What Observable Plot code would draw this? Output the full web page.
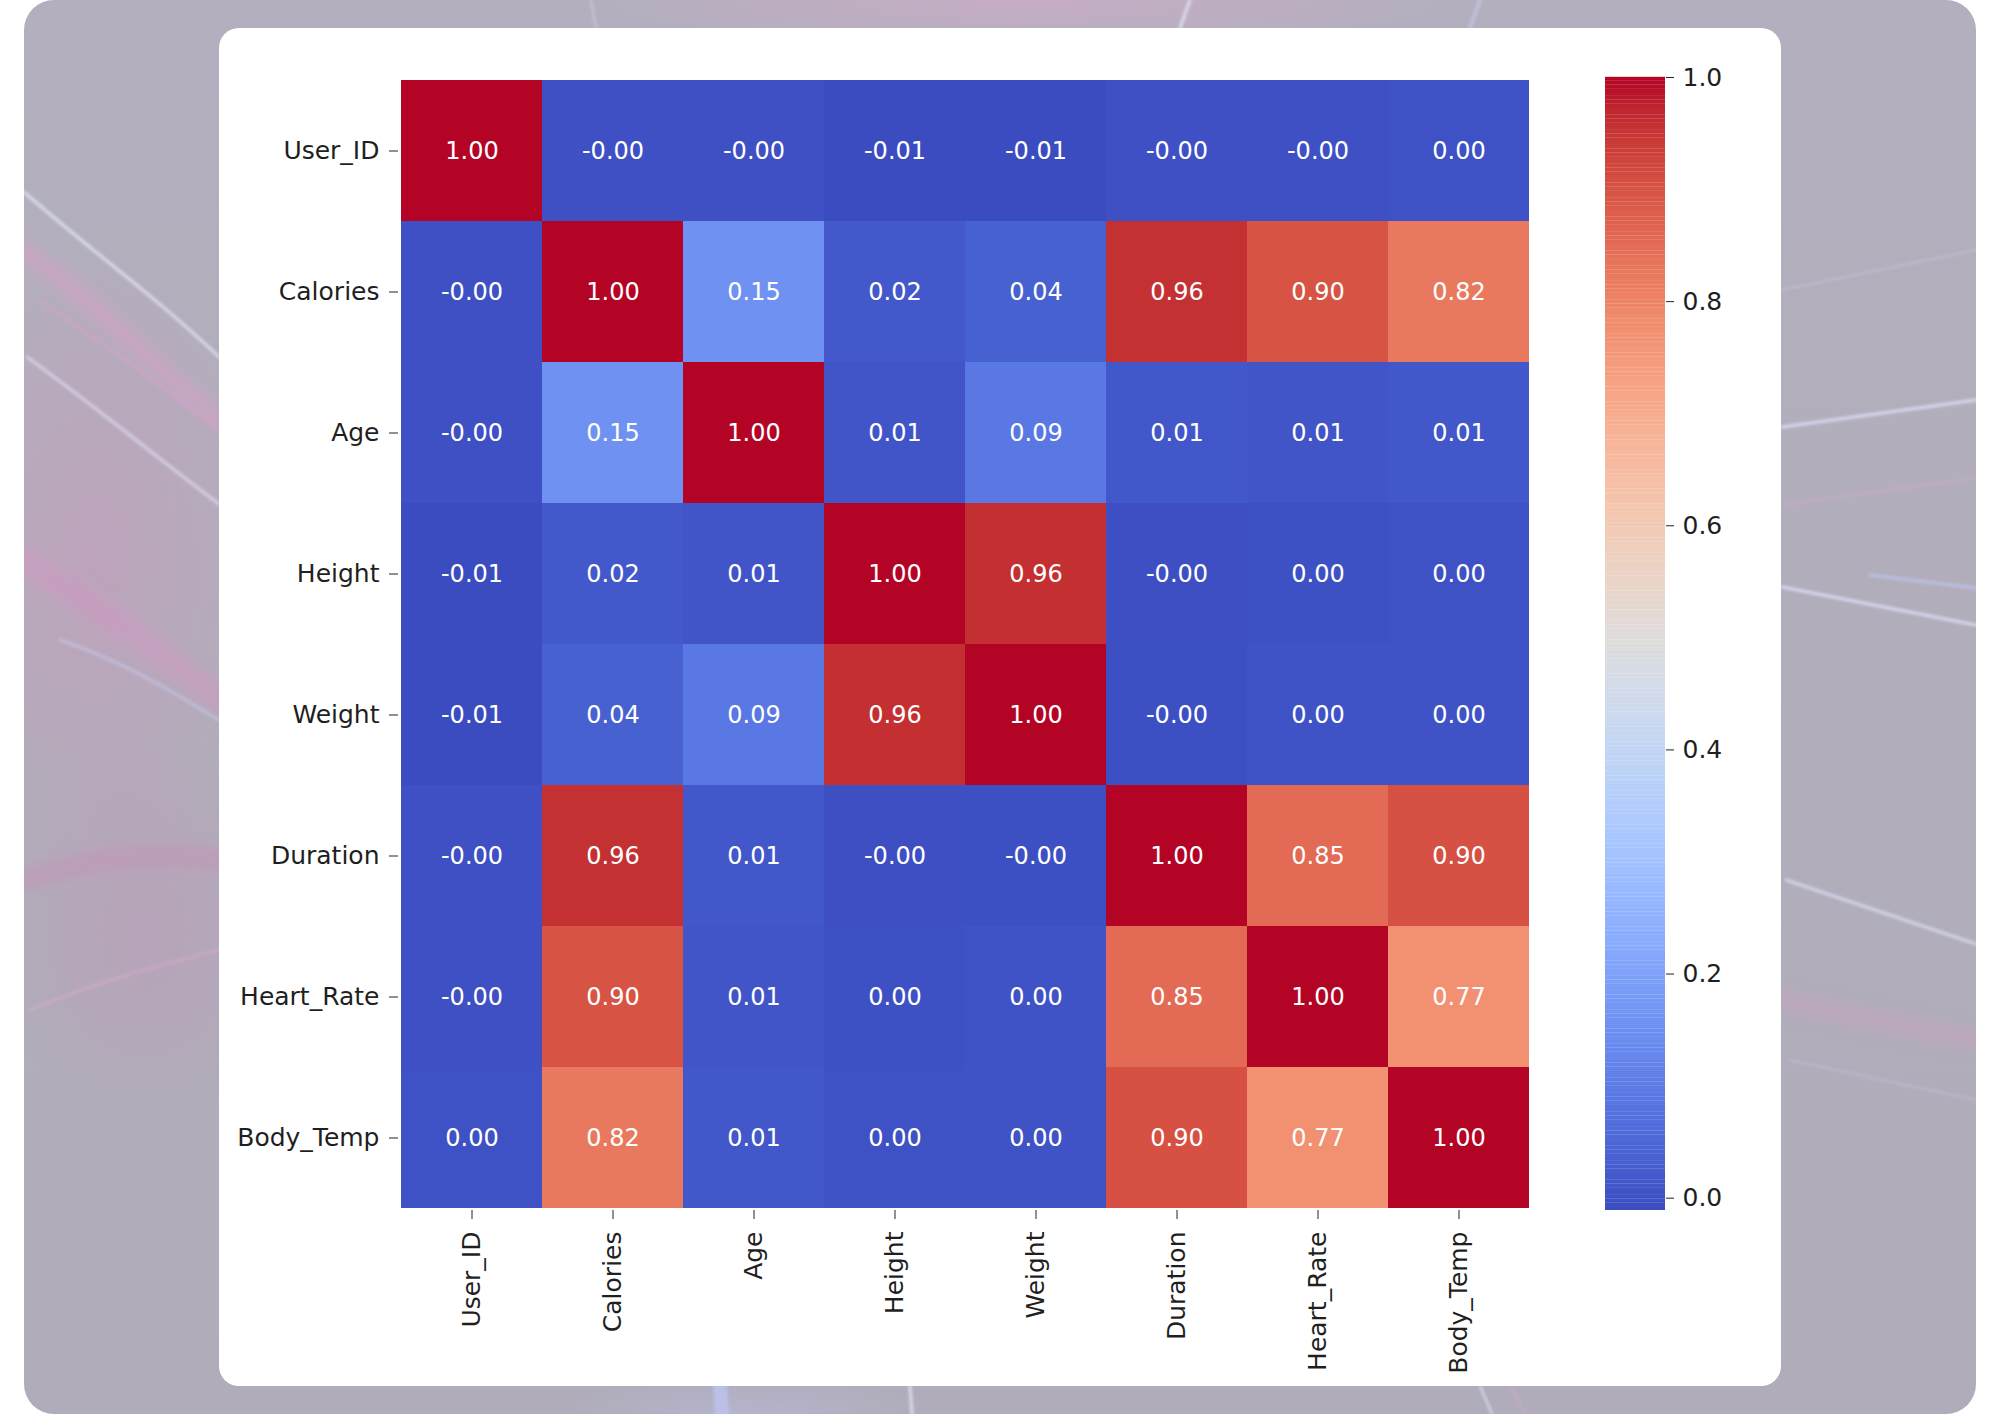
<!DOCTYPE html>
<html>
<head>
<meta charset="utf-8">
<script src="https://cdn.jsdelivr.net/npm/d3@7"></script>
<script src="https://cdn.jsdelivr.net/npm/@observablehq/plot@0.6"></script>
<style>
  html, body { margin: 0; padding: 0; width: 2000px; height: 1414px; background: #ffffff; overflow: hidden; }
  #panel {
    position: absolute; left: 24px; top: 0; width: 1952px; height: 1414px;
    border-radius: 30px; overflow: hidden;
    background:
      radial-gradient(ellipse 230px 420px at 70px 560px, rgba(206,150,190,0.42), rgba(206,150,190,0) 75%),
      radial-gradient(ellipse 200px 260px at 120px 930px, rgba(200,140,185,0.30), rgba(200,140,185,0) 75%),
      radial-gradient(ellipse 520px 60px at 1000px 0px, rgba(205,172,200,0.75), rgba(205,172,200,0) 80%),
      radial-gradient(ellipse 240px 50px at 720px 1414px, rgba(185,185,220,0.6), rgba(185,185,220,0) 80%),
      linear-gradient(180deg, #b4afbe 0%, #b1adba 50%, #b0acb9 100%);
  }
  #deco { position: absolute; left: 0; top: 0; }
  #card {
    position: absolute; left: 219px; top: 28px; width: 1562px; height: 1358px;
    border-radius: 20px; background: #ffffff;
  }
  #heat { position: absolute; left: 219px; top: 28px; }
  #bar { position: absolute; left: 1580px; top: 28px; }
  svg text { font-family: "DejaVu Sans", sans-serif; }
</style>
</head>
<body>
<div id="panel">
  <!-- light streaks in the backdrop -->
  <svg id="deco" width="1952" height="1414" viewBox="24 0 1952 1414">
    <defs>
      <filter id="soft"><feGaussianBlur stdDeviation="1.6"/></filter>
      <filter id="haze"><feGaussianBlur stdDeviation="6"/></filter>
    </defs>
    <g filter="url(#haze)" fill="none" stroke-linecap="round">
      <path d="M24,250 C90,300 150,360 219,420" stroke="rgba(215,160,200,0.55)" stroke-width="18"/>
      <path d="M24,560 C80,600 150,640 219,700" stroke="rgba(210,150,195,0.45)" stroke-width="26"/>
      <path d="M24,880 C90,860 150,850 219,860" stroke="rgba(200,140,185,0.40)" stroke-width="22"/>
      <path d="M1782,1000 C1850,1015 1920,1030 1976,1040" stroke="rgba(210,160,195,0.35)" stroke-width="20"/>
    </g>
    <g filter="url(#soft)" fill="none" stroke-linecap="round">
      <path d="M24,192 C90,250 160,300 219,357" stroke="rgba(230,232,255,0.75)" stroke-width="3"/>
      <path d="M27,357 C100,410 160,460 219,504" stroke="rgba(230,232,255,0.6)" stroke-width="3"/>
      <path d="M40,300 C110,350 170,390 219,430" stroke="rgba(215,160,205,0.6)" stroke-width="3"/>
      <path d="M60,640 C120,660 170,690 219,720" stroke="rgba(200,205,245,0.55)" stroke-width="3"/>
      <path d="M30,1010 C100,980 160,965 219,950" stroke="rgba(220,170,210,0.5)" stroke-width="3"/>
      <path d="M1782,427 L1976,400" stroke="rgba(225,228,255,0.8)" stroke-width="3"/>
      <path d="M1782,587 L1976,625" stroke="rgba(225,228,255,0.8)" stroke-width="3"/>
      <path d="M1870,575 L1976,588" stroke="rgba(190,200,250,0.7)" stroke-width="3"/>
      <path d="M1782,505 L1976,478" stroke="rgba(215,170,210,0.5)" stroke-width="2"/>
      <path d="M1782,290 L1976,250" stroke="rgba(215,200,235,0.45)" stroke-width="2"/>
      <path d="M1786,880 L1976,944" stroke="rgba(225,228,255,0.7)" stroke-width="3"/>
      <path d="M1790,1060 L1976,1100" stroke="rgba(215,190,230,0.5)" stroke-width="2"/>
      <path d="M1190,0 L1180,28" stroke="rgba(230,232,255,0.8)" stroke-width="3"/>
      <path d="M591,0 L596,28" stroke="rgba(220,200,235,0.7)" stroke-width="2"/>
      <path d="M1480,0 L1470,28" stroke="rgba(200,205,245,0.7)" stroke-width="3"/>
      <path d="M910,1386 L912,1414" stroke="rgba(230,232,255,0.8)" stroke-width="3"/>
      <path d="M1480,1386 L1492,1414" stroke="rgba(225,228,255,0.8)" stroke-width="2"/>
      <path d="M1510,1386 L1525,1414" stroke="rgba(215,170,210,0.6)" stroke-width="2"/>
      <path d="M720,1386 L722,1414" stroke="rgba(190,195,240,0.8)" stroke-width="14"/>
    </g>
  </svg>
</div>
<div id="card"></div>
<div id="heat"></div>
<div id="bar"></div>

<script>
// Variables of the correlation matrix (row/column order)
const variables = ["User_ID", "Calories", "Age", "Height", "Weight", "Duration", "Heart_Rate", "Body_Temp"];

// Pearson correlations, one row per variable
const userIdRow    = [ 1.000, -0.002, -0.002, -0.011, -0.011, -0.002, -0.002,  0.001];
const caloriesRow  = [-0.002,  1.000,  0.154,  0.017,  0.036,  0.956,  0.898,  0.824];
const ageRow       = [-0.002,  0.154,  1.000,  0.010,  0.090,  0.013,  0.010,  0.013];
const heightRow    = [-0.011,  0.017,  0.010,  1.000,  0.958, -0.004,  0.000,  0.001];
const weightRow    = [-0.011,  0.036,  0.090,  0.958,  1.000, -0.003,  0.004,  0.004];
const durationRow  = [-0.002,  0.956,  0.013, -0.004, -0.003,  1.000,  0.853,  0.903];
const heartRateRow = [-0.002,  0.898,  0.010,  0.000,  0.004,  0.853,  1.000,  0.772];
const bodyTempRow  = [ 0.001,  0.824,  0.013,  0.001,  0.004,  0.903,  0.772,  1.000];

const matrixRows = [userIdRow, caloriesRow, ageRow, heightRow, weightRow, durationRow, heartRateRow, bodyTempRow];

// Colour bar tick values
const colorbarTicks = [0.0, 0.2, 0.4, 0.6, 0.8, 1.0];

// coolwarm diverging palette, 33 evenly spaced stops
const coolwarm = [
  "rgb(59,76,192)","rgb(68,90,204)","rgb(77,104,215)","rgb(87,117,225)","rgb(98,130,234)",
  "rgb(108,142,241)","rgb(119,154,247)","rgb(130,165,251)","rgb(141,176,254)","rgb(152,185,255)",
  "rgb(163,194,255)","rgb(174,201,253)","rgb(184,208,249)","rgb(194,213,244)","rgb(204,217,238)",
  "rgb(213,219,230)","rgb(221,221,221)","rgb(229,216,209)","rgb(236,211,197)","rgb(241,204,185)",
  "rgb(245,196,173)","rgb(247,187,160)","rgb(247,177,148)","rgb(247,166,135)","rgb(244,154,123)",
  "rgb(241,141,111)","rgb(236,127,99)","rgb(229,112,88)","rgb(222,96,77)","rgb(213,80,66)",
  "rgb(203,62,56)","rgb(192,40,47)","rgb(180,4,38)"
];

// Long-form table for the cell mark
const cells = [];
matrixRows.forEach((row, i) => row.forEach((v, j) => cells.push({row: variables[i], col: variables[j], value: v})));

const vmin = d3.min(cells, d => d.value);
const vmax = d3.max(cells, d => d.value);
const colorDomain = coolwarm.map((_, k) => vmin + (k / (coolwarm.length - 1)) * (vmax - vmin));
const colorScale = {type: "linear", domain: colorDomain, range: coolwarm, interpolate: "rgb"};

const fmt2 = v => v.toFixed(2);
const fontStyle = {fontFamily: "DejaVu Sans, sans-serif", fontSize: "25px", color: "#1f1f1f", background: "transparent", overflow: "visible"};

// Heatmap
const heat = Plot.plot({
  width: 1340,
  height: 1358,
  marginLeft: 179,
  marginRight: 27,
  marginTop: 49,
  marginBottom: 176,
  style: fontStyle,
  x: {domain: variables, padding: 0, label: null},
  y: {domain: variables, padding: 0, label: null},
  color: colorScale,
  marks: [
    Plot.cell(cells, {x: "col", y: "row", fill: "value", inset: 0, shapeRendering: "crispEdges"}),
    Plot.text(cells, {x: "col", y: "row", text: d => fmt2(d.value), fill: "#ffffff", fontSize: 24}),
    Plot.axisX({anchor: "bottom", tickRotate: -90, tickSize: 9, tickPadding: 12, label: null, fontSize: 25, stroke: "#222"}),
    Plot.axisY({anchor: "left", tickSize: 9, tickPadding: 10, label: null, fontSize: 25, stroke: "#222"})
  ]
});
document.getElementById("heat").appendChild(heat);

// Colour bar: thin horizontal bands stacked along the value scale
const steps = 300;
const bandStep = (vmax - vmin) / steps;
const bands = d3.range(steps).map(k => vmin + k * bandStep);

const bar = Plot.plot({
  width: 200,
  height: 1358,
  marginLeft: 25,
  marginRight: 115,
  marginTop: 49,
  marginBottom: 176,
  style: fontStyle,
  x: {domain: [0, 1], axis: null},
  y: {domain: [vmin, vmax], label: null},
  color: colorScale,
  marks: [
    Plot.rect(bands, {x1: 0, x2: 1, y1: d => d, y2: d => d + bandStep * 1.05, fill: d => d + bandStep / 2}),
    Plot.axisY({anchor: "right", ticks: colorbarTicks, tickFormat: d => d.toFixed(1), tickSize: 8, tickPadding: 9, label: null, fontSize: 25, stroke: "#222"})
  ]
});
document.getElementById("bar").appendChild(bar);
</script>
</body>
</html>
